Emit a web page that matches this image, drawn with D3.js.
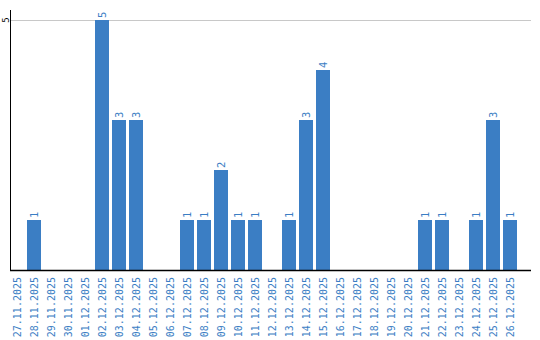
<!DOCTYPE html>
<html>
<head>
<meta charset="utf-8">
<script src="https://cdn.jsdelivr.net/npm/d3@7"></script>
<style>
  body { margin: 0; background: #fff; }
  svg { display: block; font-family: "DejaVu Sans Mono", monospace; }
</style>
</head>
<body>
<svg id="svg" width="540" height="340"></svg>
<script>
var dates = ["27.11.2025", "28.11.2025", "29.11.2025", "30.11.2025", "01.12.2025",
    "02.12.2025", "03.12.2025", "04.12.2025", "05.12.2025", "06.12.2025",
    "07.12.2025", "08.12.2025", "09.12.2025", "10.12.2025", "11.12.2025",
    "12.12.2025", "13.12.2025", "14.12.2025", "15.12.2025", "16.12.2025",
    "17.12.2025", "18.12.2025", "19.12.2025", "20.12.2025", "21.12.2025",
    "22.12.2025", "23.12.2025", "24.12.2025", "25.12.2025", "26.12.2025"];
var counts = [0, 1, 0, 0, 0, 5, 3, 3, 0, 0, 1, 1, 2, 1, 1, 0, 1, 3, 4, 0, 0, 0, 0, 0, 1, 1, 0, 1, 3, 1];
var yTicks = [5];

var blue = "#3b7ec4";
var svg = d3.select("svg");

var data = dates.map(function (d, i) {
    return {date: d, value: counts[i]};
});

var x = d3.scaleBand()
        .domain(dates)
        .range([8.5, 518.5])
        .paddingInner(3 / 17)
        .paddingOuter(1.5 / 17);

var y = d3.scaleLinear()
        .domain([0, 5])
        .range([270, 20]);

// gridline
svg.selectAll(".grid")
        .data(yTicks)
        .enter().append("line")
        .attr("x1", 10)
        .attr("x2", 531)
        .attr("y1", function (d) { return y(d) + 0.5; })
        .attr("y2", function (d) { return y(d) + 0.5; })
        .attr("stroke", "#c8c8c8");

// bars
svg.selectAll(".bar")
        .data(data.filter(function (d) { return d.value > 0; }))
        .enter().append("rect")
        .attr("x", function (d) { return x(d.date); })
        .attr("y", function (d) { return y(d.value); })
        .attr("width", x.bandwidth())
        .attr("height", function (d) { return y(0) - y(d.value); })
        .attr("fill", blue);

// value labels
svg.selectAll(".val")
        .data(data.filter(function (d) { return d.value > 0; }))
        .enter().append("text")
        .attr("transform", function (d) {
            return "translate(" + (x(d.date) + x.bandwidth() / 2 + 4) + "," + (y(d.value) - 2) + ") rotate(-90)";
        })
        .attr("font-size", 10.5)
        .attr("fill", blue)
        .text(function (d) { return d.value; });

// y axis
svg.append("line")
        .attr("x1", 10.5).attr("x2", 10.5)
        .attr("y1", 10).attr("y2", 270)
        .attr("stroke", "#000");

svg.selectAll(".ytick")
        .data(yTicks)
        .enter().append("text")
        .attr("transform", function (d) {
            return "translate(8.5," + y(d) + ") rotate(-90)";
        })
        .attr("text-anchor", "middle")
        .attr("font-size", 9)
        .attr("fill", "#000")
        .text(function (d) { return d; });

// x axis baseline
svg.append("line")
        .attr("x1", 10).attr("x2", 531)
        .attr("y1", 270.5).attr("y2", 270.5)
        .attr("stroke", "#000")
        .attr("stroke-width", 1.5);

// x labels
svg.selectAll(".xlab")
        .data(dates)
        .enter().append("text")
        .attr("transform", function (d) {
            return "translate(" + (x(d) + x.bandwidth() / 2 + 4) + ",277) rotate(-90)";
        })
        .attr("text-anchor", "end")
        .attr("font-size", 10)
        .attr("fill", blue)
        .text(function (d) { return d; });
</script>
</body>
</html>
